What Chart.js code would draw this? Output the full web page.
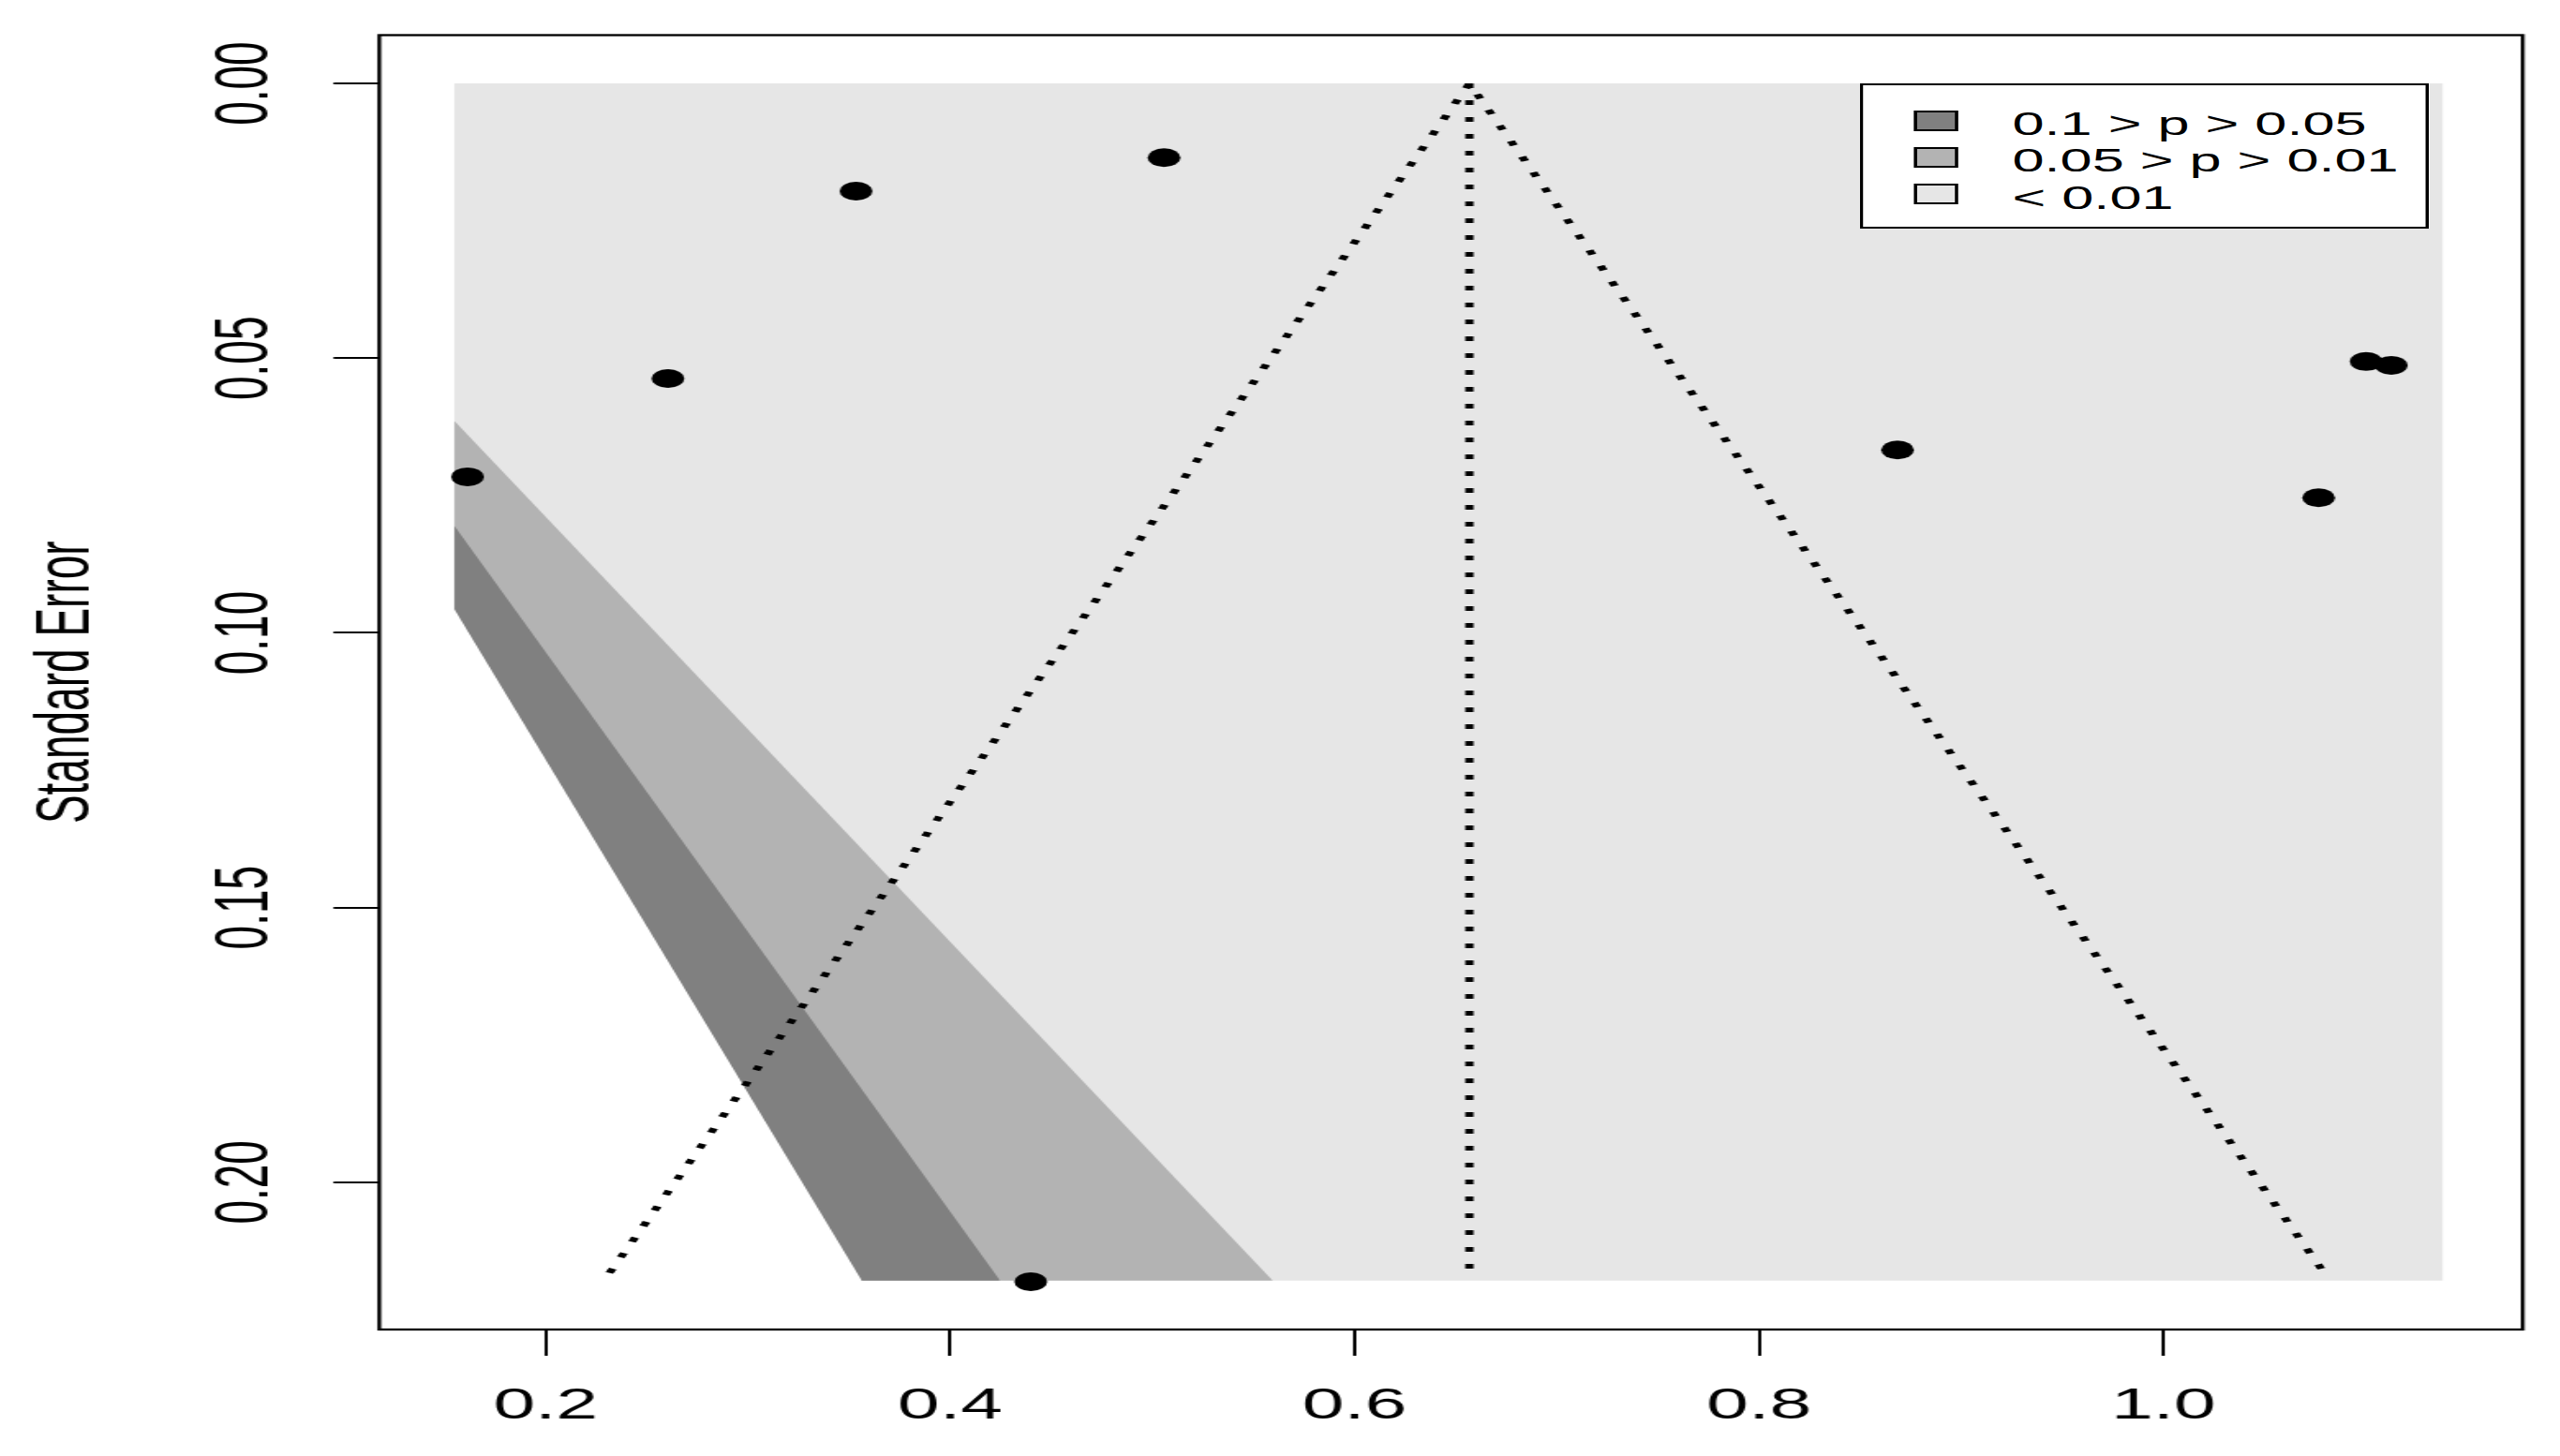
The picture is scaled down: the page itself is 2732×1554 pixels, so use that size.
<!DOCTYPE html>
<html>
<head>
<meta charset="utf-8">
<title>Funnel plot</title>
<script src="https://cdn.jsdelivr.net/npm/chart.js@4.4.1/dist/chart.umd.min.js"></script>
<style>
  html, body { margin: 0; padding: 0; background: #fff; overflow: hidden; }
  /* the reference is stretched sideways, so the whole figure is drawn narrow and scaled in x */
  #wrap { position: absolute; left: 0; top: 0; width: 1561px; height: 1554px; transform: scaleX(1.7502); transform-origin: 0 0; }
  .legend { position: absolute; left: 1134px; top: 89px; width: 347px; height: 155px; box-sizing: border-box;
            border: 2px solid #000; background: #fff; font: 35px 'Liberation Sans', Arial, sans-serif; color: #000; }
  .legend .sw { position: absolute; left: 31px; width: 27px; height: 22px; box-sizing: border-box; border: 2px solid #000; }
  .legend .lab { position: absolute; left: 91px; line-height: 35px; white-space: nowrap; }
</style>
</head>
<body>
<div id="wrap">
  <canvas id="funnel"></canvas>
  <div class="legend" id="legend"></div>
</div>
<script>
// study estimates (x) and their standard errors (y)
const studyEffect = [0.1614, 0.2605, 0.3535, 0.5058, 0.4399, 0.8685, 1.0767, 1.1002, 1.1126];
const studySE = [0.0716, 0.0537, 0.0196, 0.0135, 0.2181, 0.0667, 0.0754, 0.0506, 0.0513];

// summary estimate and the pseudo 95% funnel
const summaryEffect = 0.6568;
const funnelX = [0.2316, 0.6568, 1.0795];
const funnelSE = [0.2165, 0, 0.2165];

// shaded contour area and its boundaries
const shadeX = [0.1549, 1.1382];
const seMax = 0.2179;
const edgeP01X = [0.1549, 0.5595];
const edgeP01SE = [0.0614, seMax];
const edgeP05X = [0.1549, 0.4247];
const edgeP05SE = [0.0805, seMax];
const edgeP10X = [0.1549, 0.3563];
const edgeP10SE = [0.0957, seMax];

const xTicks = [0.2, 0.4, 0.6, 0.8, 1.0];
const xTickLabels = ['0.2', '0.4', '0.6', '0.8', '1.0'];
const yTicks = [0, 0.05, 0.10, 0.15, 0.20];
const yTickLabels = ['0.00', '0.05', '0.10', '0.15', '0.20'];

const legendLabels = ['0.1 > p > 0.05', '0.05 > p > 0.01', '< 0.01'];
const legendColors = ['#808080', '#b3b3b3', '#e6e6e6'];

const X_MIN = 0.1178;
const X_MAX = 1.1776;
const Y_MIN = -0.0088;
const Y_MAX = 0.2268;

const FONT = "'Liberation Sans', Arial, sans-serif";
const pts = (xs, ys) => xs.map((x, i) => ({ x, y: ys[i] }));

function area(data, color, order, base = seMax) {
  return {
    type: 'line',
    data,
    showLine: true,
    borderColor: 'rgba(0,0,0,0)',
    borderWidth: 0,
    backgroundColor: color,
    pointRadius: 0,
    fill: { value: base },
    order
  };
}

const plotBox = {
  id: 'plotBox',
  afterDraw(chart) {
    const { ctx, chartArea: a } = chart;
    ctx.save();
    ctx.strokeStyle = '#000';
    ctx.lineWidth = 2.3;
    ctx.strokeRect(a.left, a.top, a.right - a.left, a.bottom - a.top);
    ctx.restore();
  }
};

// the white (p > 0.1) wedge is run out past the shaded area so no grey seam shows at its edges
const whiteWedge = [{ x: X_MIN, y: edgeP10SE[0] }, ...pts(edgeP10X, edgeP10SE)];

new Chart(document.querySelector('#funnel'), {
  type: 'scatter',
  data: {
    datasets: [
      {
        label: 'Studies',
        data: pts(studyEffect, studySE),
        pointRadius: 10,
        pointHoverRadius: 10,
        backgroundColor: '#000',
        borderWidth: 0,
        order: 0
      },
      {
        type: 'line',
        data: pts(funnelX, funnelSE),
        showLine: true,
        borderColor: '#000',
        borderWidth: 5,
        borderDash: [5, 13],
        pointRadius: 0,
        fill: false,
        order: 1
      },
      {
        type: 'line',
        data: pts([summaryEffect, summaryEffect], [0, seMax]),
        showLine: true,
        borderColor: '#000',
        borderWidth: 5,
        borderDash: [5, 13],
        pointRadius: 0,
        fill: false,
        order: 1
      },
      area(whiteWedge, '#ffffff', 2, Y_MAX),
      area(pts(edgeP05X, edgeP05SE), legendColors[0], 3),
      area(pts(edgeP01X, edgeP01SE), legendColors[1], 4),
      area(pts(shadeX, [0, 0]), legendColors[2], 5)
    ]
  },
  options: {
    responsive: true,
    maintainAspectRatio: false,
    animation: false,
    events: [],
    layout: { padding: { top: 37.5, right: 22.8, left: 0, bottom: 0 } },
    plugins: {
      legend: { display: false },
      tooltip: { enabled: false }
    },
    scales: {
      x: {
        type: 'linear',
        min: X_MIN,
        max: X_MAX,
        afterBuildTicks: (axis) => { axis.ticks = xTicks.map((value) => ({ value })); },
        afterFit: (axis) => { axis.height = 135; },
        ticks: {
          autoSkip: false,
          padding: 27,
          color: '#000',
          font: { family: FONT, size: 46 },
          callback: (value, i) => xTickLabels[i]
        },
        grid: { drawOnChartArea: false, drawTicks: true, tickLength: 28, color: '#000', lineWidth: 2 },
        border: { display: false }
      },
      y: {
        type: 'linear',
        reverse: true,
        min: Y_MIN,
        max: Y_MAX,
        afterBuildTicks: (axis) => { axis.ticks = yTicks.map((value) => ({ value })); },
        afterFit: (axis) => { axis.width = 231.3; },
        ticks: {
          autoSkip: false,
          minRotation: 90,
          maxRotation: 90,
          crossAlign: 'center',
          padding: 8,
          color: '#000',
          font: { family: FONT, size: 46 },
          callback: (value, i) => yTickLabels[i]
        },
        grid: { drawOnChartArea: false, drawTicks: true, tickLength: 28, color: '#000', lineWidth: 2 },
        border: { display: false },
        title: {
          display: true,
          text: 'Standard Error',
          color: '#000',
          font: { family: FONT, size: 46 },
          padding: { top: 14, bottom: 0 }
        }
      }
    }
  },
  plugins: [plotBox]
});

const legend = document.querySelector('#legend');
legendLabels.forEach((text, i) => {
  const sw = document.createElement('div');
  sw.className = 'sw';
  sw.style.top = `${27 + i * 39}px`;
  sw.style.background = legendColors[i];
  const lab = document.createElement('div');
  lab.className = 'lab';
  lab.style.top = `${22.7 + i * 39.5}px`;
  lab.textContent = text;
  legend.append(sw, lab);
});
</script>
</body>
</html>
